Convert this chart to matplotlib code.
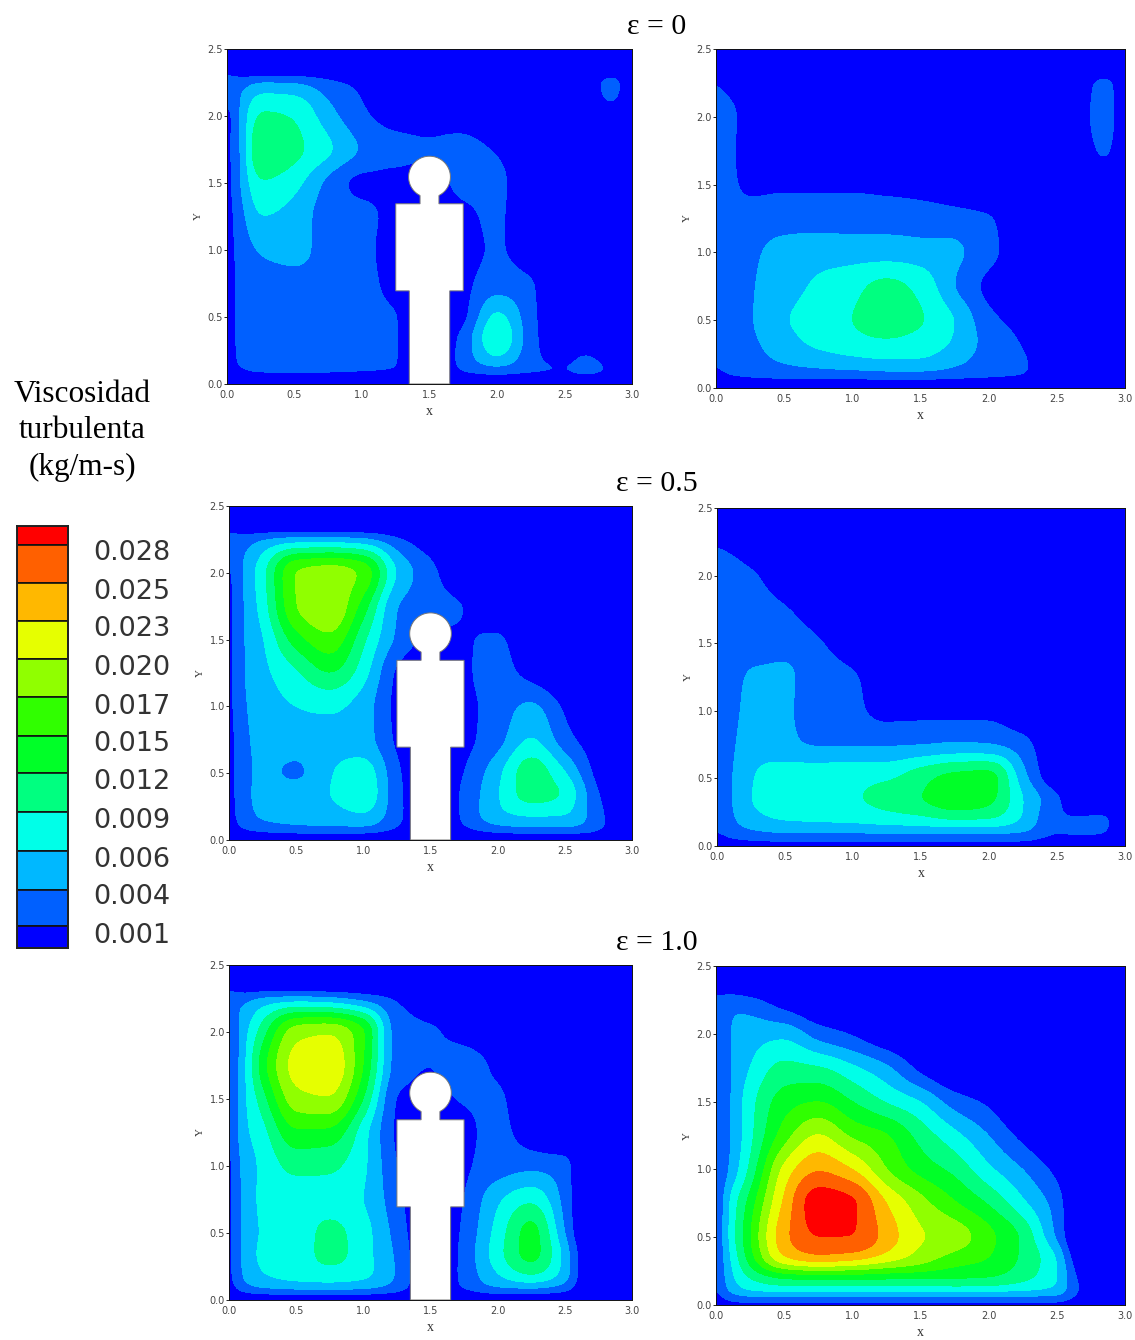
import numpy as np
import matplotlib
matplotlib.use('Agg')
import matplotlib.pyplot as plt
from matplotlib.patches import Polygon

W, H = 1135, 1340

# grid where the field was read, top row of each panel is the last nonzero edge
x_grid = [0, .1, .25, .5, .75, 1, 1.25, 1.5, 1.75, 2, 2.25, 2.5, 2.65, 2.85, 3]
y_grid = [2.35, 2.25, 2, 1.75, 1.5, 1.25, 1, .75, .5, .35, .2, .1, 0]

# field values as position on the colour scale (0 = lowest band, 11+ = red band)
eps0_person = [
    [0, 0, 0, 0, 0, 0, 0, 0, 0, 0, 0, 0, 0, 0, 0],
    [2.1, 1.6, 2.1, 2.0, 1.3, .7, 0, 0, 0, 0, 0, 0, 0, 1.7, 0],
    [.6, 2.1, 4.2, 3.9, 2.4, 1.2, .6, .6, .5, 0, 0, 0, 0, .5, 0],
    [.7, 2.0, 5.1, 4.3, 3.2, 1.9, 1.3, 1.1, 1.3, .9, 0, 0, 0, 0, 0],
    [.6, 2.0, 3.9, 3.3, 1.7, .7, .7, .5, 1.3, 1.3, 0, 0, 0, 0, 0],
    [.6, 1.6, 3.0, 2.6, 1.5, 1.3, .6, 0, .7, 1.2, 0, 0, 0, 0, 0],
    [.6, 1.4, 2.1, 2.4, 1.5, 1.3, .4, 0, .6, 1.1, .4, 0, 0, 0, 0],
    [.5, 1.3, 1.6, 1.6, 1.5, 1.4, .5, 0, .7, 1.5, 1.1, 0, 0, 0, 0],
    [.5, 1.3, 1.5, 1.5, 1.5, 1.4, 1.05, 0, .7, 3.3, 1.3, 0, 0, 0, 0],
    [.5, 1.3, 1.5, 1.5, 1.5, 1.4, 1.05, 0, 1.3, 3.9, 1.4, 0, 0, 0, 0],
    [.4, 1.3, 1.5, 1.5, 1.5, 1.4, 1.05, 0, 1.4, 3.0, 1.3, .6, 1.15, .4, 0],
    [.4, .9, 1.2, 1.2, 1.2, 1.1, 1, 0, 1.1, 1.5, 1.2, 1.1, 1.4, .9, 0],
    [0, 0, 0, 0, 0, 0, 0, 0, 0, 0, 0, 0, 0, 0, 0],
]
eps0_empty = [
    [0, 0, 0, 0, 0, 0, 0, 0, 0, 0, 0, 0, 0, 0, 0],
    [1.0, .6, 0, 0, 0, 0, 0, 0, 0, 0, 0, 0, 0, 1.6, 0],
    [1.3, 1.3, .3, 0, 0, 0, 0, 0, 0, 0, 0, 0, .2, 1.8, 0],
    [1.2, 1.2, .3, 0, 0, 0, 0, 0, 0, 0, 0, 0, 0, 1.3, 0],
    [1.2, 1.2, .7, .8, .8, .8, .7, .6, .3, 0, 0, 0, 0, 0, 0],
    [1.2, 1.4, 1.5, 1.6, 1.6, 1.6, 1.6, 1.5, 1.4, 1.1, .3, 0, 0, 0, 0],
    [1.2, 1.4, 1.8, 2.3, 2.5, 2.5, 2.5, 2.4, 2.2, 1.3, .4, 0, 0, 0, 0],
    [1.2, 1.4, 1.9, 2.5, 3.2, 3.7, 4.3, 3.7, 2.0, .7, 0, 0, 0, 0, 0],
    [1.2, 1.4, 1.9, 2.9, 3.5, 4.0, 4.6, 4.1, 3.0, 1.3, .6, 0, 0, 0, 0],
    [1.2, 1.4, 1.8, 2.6, 3.3, 3.7, 3.9, 3.6, 2.9, 1.6, .9, 0, 0, 0, 0],
    [1.1, 1.3, 1.6, 2.1, 2.4, 2.7, 2.9, 2.9, 2.3, 1.5, 1.1, .3, 0, 0, 0],
    [.8, 1.1, 1.3, 1.5, 1.6, 1.6, 1.7, 1.7, 1.5, 1.3, 1.1, .2, 0, 0, 0],
    [0, 0, 0, 0, 0, 0, 0, 0, 0, 0, 0, 0, 0, 0, 0],
]
eps05_person = [
    [0, 0, 0, 0, 0, 0, 0, 0, 0, 0, 0, 0, 0, 0, 0],
    [2.0, 1.5, 2.0, 2.4, 2.4, 2.2, 1.2, .3, 0, 0, 0, 0, 0, 0, 0],
    [.8, 2.0, 3.6, 7.1, 7.6, 6.8, 2.9, 1.3, .2, 0, 0, 0, 0, 0, 0],
    [.7, 1.9, 3.4, 7.0, 7.9, 5.5, 2.0, 1.3, 1.0, 0, 0, 0, 0, 0, 0],
    [.7, 1.9, 2.9, 5.5, 6.7, 4.2, 1.8, .8, .9, 1.2, 0, 0, 0, 0, 0],
    [.7, 1.9, 2.7, 3.8, 5.0, 3.4, .8, 0, .8, 1.4, .6, 0, 0, 0, 0],
    [.7, 1.8, 2.5, 3.0, 3.2, 2.5, .7, 0, .7, 1.4, 2.2, .8, .2, 0, 0],
    [.6, 1.7, 2.3, 2.5, 2.6, 2.4, .8, 0, .7, 1.6, 3.1, 1.4, .7, 0, 0],
    [.6, 1.6, 2.2, 1.8, 2.9, 3.6, 1.2, 0, 1.0, 2.7, 4.6, 3.1, 1.5, 0, 0],
    [.6, 1.6, 2.3, 2.4, 3.0, 3.8, 1.3, 0, 1.2, 2.9, 4.5, 3.9, 2.1, .3, 0],
    [.6, 1.5, 2.2, 2.4, 2.6, 3.0, 1.3, 0, 1.2, 2.8, 3.2, 3.1, 2.1, .6, 0],
    [.5, 1.2, 1.7, 2.0, 2.1, 2.1, 1.1, 0, 1.0, 1.9, 2.2, 2.2, 1.9, .7, 0],
    [0, 0, 0, 0, 0, 0, 0, 0, 0, 0, 0, 0, 0, 0, 0],
]
eps05_empty = [
    [0, 0, 0, 0, 0, 0, 0, 0, 0, 0, 0, 0, 0, 0, 0],
    [.8, .5, 0, 0, 0, 0, 0, 0, 0, 0, 0, 0, 0, 0, 0],
    [1.6, 1.6, 1.2, .3, 0, 0, 0, 0, 0, 0, 0, 0, 0, 0, 0],
    [1.6, 1.6, 1.5, 1.1, .3, 0, 0, 0, 0, 0, 0, 0, 0, 0, 0],
    [1.6, 1.7, 1.7, 1.7, 1.1, .4, 0, 0, 0, 0, 0, 0, 0, 0, 0],
    [1.6, 1.7, 2.1, 2.15, 1.4, 1.1, .4, 0, 0, 0, 0, 0, 0, 0, 0],
    [1.6, 1.7, 2.3, 2.15, 1.4, 1.2, .7, .7, .7, .7, .2, 0, 0, 0, 0],
    [1.6, 1.8, 2.5, 2.2, 1.9, 1.9, 1.9, 1.95, 2.1, 2.0, 1.4, 0, 0, 0, 0],
    [1.6, 1.9, 2.9, 3.7, 3.7, 3.8, 3.9, 4.7, 5.4, 5.5, 2.4, .2, 0, 0, 0],
    [1.5, 1.9, 3.0, 3.6, 3.7, 3.9, 4.4, 5.0, 5.7, 5.3, 3.0, 1.2, .2, 0, 0],
    [1.3, 1.8, 2.6, 3.1, 3.2, 3.3, 3.5, 3.7, 4.1, 4.0, 2.9, 1.05, 1.1, 1.2, .3],
    [1.0, 1.4, 1.8, 2.1, 2.1, 2.1, 2.2, 2.2, 2.2, 2.2, 2.0, 1.1, 1.2, 1.1, .2],
    [.3, .5, .5, .5, .5, .5, .5, .5, .5, .5, .5, .3, .3, .3, 0],
]
eps1_person = [
    [0, 0, 0, 0, 0, 0, 0, 0, 0, 0, 0, 0, 0, 0, 0],
    [2.1, 1.7, 2.2, 2.4, 2.2, 1.6, .9, 0, 0, 0, 0, 0, 0, 0, 0],
    [1.0, 2.4, 4.5, 7.6, 7.9, 6.2, 1.5, 1.2, .5, 0, 0, 0, 0, 0, 0],
    [.9, 2.5, 5.5, 8.4, 8.8, 6.0, 1.5, 1.0, 1.6, .7, 0, 0, 0, 0, 0],
    [.8, 2.6, 4.5, 7.6, 7.9, 5.0, .9, .6, 1.1, 1.2, 0, 0, 0, 0, 0],
    [.8, 2.6, 3.6, 5.8, 5.7, 3.4, .8, 0, .7, 1.3, .4, 0, 0, 0, 0],
    [.7, 2.3, 3.2, 4.3, 4.2, 3.2, 1.0, 0, .8, 1.5, 1.7, 1.4, 0, 0, 0],
    [.7, 2.2, 3.2, 3.5, 3.6, 3.0, 1.3, 0, 1.0, 2.8, 3.8, 1.6, 0, 0, 0],
    [.7, 2.2, 3.1, 3.4, 4.3, 3.4, 1.6, 0, 1.2, 3.4, 5.4, 2.0, 0, 0, 0],
    [.7, 2.2, 3.2, 3.4, 4.4, 3.4, 1.8, 0, 1.3, 3.6, 5.4, 2.6, .3, 0, 0],
    [.7, 2.1, 3.0, 3.4, 3.6, 3.3, 1.9, 0, 1.3, 3.0, 4.2, 2.6, .3, 0, 0],
    [.6, 1.7, 2.3, 2.6, 2.7, 2.5, 1.7, 0, 1.2, 2.2, 2.4, 1.7, .2, 0, 0],
    [0, 0, 0, 0, 0, 0, 0, 0, 0, 0, 0, 0, 0, 0, 0],
]
eps1_empty = [
    [0, 0, 0, 0, 0, 0, 0, 0, 0, 0, 0, 0, 0, 0, 0],
    [1.4, 1.7, 1.3, .4, 0, 0, 0, 0, 0, 0, 0, 0, 0, 0, 0],
    [.9, 2.0, 2.5, 2.7, 1.5, .9, .2, 0, 0, 0, 0, 0, 0, 0, 0],
    [1.0, 1.9, 3.0, 4.3, 4.1, 3.2, 2.2, .7, 0, 0, 0, 0, 0, 0, 0],
    [1.0, 1.9, 3.6, 5.5, 6.0, 5.0, 3.9, 3.0, 1.5, .8, 0, 0, 0, 0, 0],
    [1.0, 1.9, 3.7, 6.5, 8.1, 6.8, 6.1, 4.6, 3.3, 2.0, .7, 0, 0, 0, 0],
    [1.0, 2.1, 4.2, 8.3, 9.9, 9.0, 7.0, 5.6, 4.7, 3.2, 2.0, .7, 0, 0, 0],
    [1.0, 3.1, 5.4, 9.2, 11.6, 11.2, 9.0, 7.4, 6.1, 4.9, 3.2, 1.5, 0, 0, 0],
    [1.1, 3.2, 5.9, 9.7, 11.0, 11.0, 9.6, 8.1, 7.6, 6.3, 4.8, 1.8, 0, 0, 0],
    [1.1, 2.9, 5.5, 9.0, 9.8, 9.5, 8.6, 7.6, 6.6, 6.0, 4.8, 3.0, .3, 0, 0],
    [1.0, 2.6, 4.0, 5.0, 5.2, 5.2, 5.1, 5.1, 5.1, 5.0, 4.3, 3.1, .9, 0, 0],
    [.9, 2.2, 3.0, 3.2, 3.2, 3.2, 3.2, 3.2, 3.2, 3.1, 3.0, 2.7, 1.1, 0, 0],
    [.3, .5, .5, .5, .5, .5, .5, .5, .5, .5, .5, .5, .3, 0, 0],
]

band_colors = ['#0000ff', '#0060ff', '#00b8ff', '#00ffe8', '#00ff80', '#00ff28',
               '#30ff00', '#90ff00', '#e6ff00', '#ffb800', '#ff6000', '#ff0000']
legend_labels = ['0.028', '0.025', '0.023', '0.020', '0.017', '0.015',
                 '0.012', '0.009', '0.006', '0.004', '0.001']
legend_label_y = [551, 590, 627, 666, 705, 742, 780, 819, 858, 895, 934]
legend_edges = [526, 545, 583, 621, 659, 697, 736, 773, 812, 851, 890, 926, 948]

ticks_x = [0, .5, 1, 1.5, 2, 2.5, 3]
ticks_y = [0, .5, 1, 1.5, 2, 2.5]

# left, top, right, bottom in pixels
panels = [
    (eps0_person, True, (227, 49, 632, 384)),
    (eps0_empty, False, (716, 49, 1125, 388)),
    (eps05_person, True, (229, 506, 632, 840)),
    (eps05_empty, False, (717, 508, 1125, 846)),
    (eps1_person, True, (229, 965, 632, 1300)),
    (eps1_empty, False, (716, 966, 1125, 1305)),
]
titles = [('ε = 0', 27), ('ε = 0.5', 484), ('ε = 1.0', 943)]

serif = 'Liberation Serif'
tick_col = '#444444'


def add_axes_px(fig, left, top, right, bottom):
    return fig.add_axes([left / W, 1 - bottom / H, (right - left) / W, (bottom - top) / H])


def pchip(xk, yk, xq):
    """Monotone cubic through the knots, flat beyond both ends."""
    xk = np.asarray(xk, dtype=float)
    yk = np.asarray(yk, dtype=float)
    h = np.diff(xk)
    s = np.diff(yk) / h
    d = np.zeros_like(yk)
    for i in range(1, len(xk) - 1):
        if s[i - 1] * s[i] > 0:
            w1 = 2 * h[i] + h[i - 1]
            w2 = h[i] + 2 * h[i - 1]
            d[i] = (w1 + w2) / (w1 / s[i - 1] + w2 / s[i])
    xq = np.clip(xq, xk[0], xk[-1])
    j = np.clip(np.searchsorted(xk, xq) - 1, 0, len(h) - 1)
    t = (xq - xk[j]) / h[j]
    return (yk[j] * (1 + 2 * t) * (1 - t) ** 2 + d[j] * h[j] * t * (1 - t) ** 2
            + yk[j + 1] * t ** 2 * (3 - 2 * t) + d[j + 1] * h[j] * t ** 2 * (t - 1))


def fine_field(values):
    """Resample the read values to a fine grid and soften the grid kinks."""
    xs = np.linspace(0, 3, 301)
    ys = np.linspace(0, 2.5, 251)
    z = np.array(values, dtype=float)[::-1]
    yg = np.array(y_grid)[::-1]
    rows = np.array([pchip(x_grid, r, xs) for r in z])
    fine = np.array([pchip(yg, rows[:, i], ys) for i in range(len(xs))]).T
    sigma = 3.5
    k = np.exp(-0.5 * (np.arange(-11, 12) / sigma) ** 2)
    k /= k.sum()
    pad = np.pad(fine, 11, mode='edge')
    pad = np.apply_along_axis(lambda a: np.convolve(a, k, mode='same'), 0, pad)
    pad = np.apply_along_axis(lambda a: np.convolve(a, k, mode='same'), 1, pad)
    return xs, ys, pad[11:-11, 11:-11]


def person_outline():
    t = np.radians(np.linspace(-63, 243, 60))
    head = np.column_stack([1.5 + .155 * np.cos(t), 1.545 + .155 * np.sin(t)])
    body = [(1.43, 1.40), (1.43, 1.345), (1.25, 1.345), (1.25, .695),
            (1.35, .695), (1.35, 0), (1.65, 0), (1.65, .695),
            (1.75, .695), (1.75, 1.345), (1.57, 1.345), (1.57, 1.40)]
    return np.vstack([head, body])


fig = plt.figure(figsize=(W / 100, H / 100), dpi=100)

for values, has_person, box in panels:
    ax = add_axes_px(fig, *box)
    xs, ys, field = fine_field(values)
    ax.set_facecolor(band_colors[0])
    ax.contourf(xs, ys, np.clip(field, .01, 11.99), levels=np.arange(13), colors=band_colors)
    if has_person:
        ax.add_patch(Polygon(person_outline(), closed=True, facecolor='white',
                             edgecolor='#777777', linewidth=.7, zorder=3))
    ax.set_xlim(0, 3)
    ax.set_ylim(0, 2.5)
    ax.set_xticks(ticks_x)
    ax.set_yticks(ticks_y)
    ax.set_xticklabels(['%.1f' % v for v in ticks_x])
    ax.set_yticklabels(['%.1f' % v for v in ticks_y])
    ax.tick_params(axis='x', length=0, pad=4, labelsize=7, labelcolor=tick_col)
    ax.tick_params(axis='y', length=2, width=.6, pad=1, labelsize=7, labelcolor=tick_col)
    for s in ax.spines.values():
        s.set_linewidth(.7)
        s.set_color('#111111')
    ax.set_xlabel('x', family=serif, fontsize=10, color='#333333', labelpad=4)
    ax.set_ylabel('Y', family=serif, fontsize=8, color='#333333', labelpad=3)

for text, y in titles:
    fig.text(657 / W, 1 - y / H, text, family=serif, fontsize=21.5, ha='center', va='center')

fig.text(82 / W, 1 - 431 / H, 'Viscosidad\nturbulenta\n(kg/m-s)', family=serif, fontsize=22.5,
         ha='center', va='center', linespacing=1.33, multialignment='center')

# colour legend, its axes runs in pixels so the uneven end cells stay as drawn
lax = add_axes_px(fig, 17, 526, 68, 948)
for i in range(12):
    lax.fill_between([0, 1], legend_edges[i], legend_edges[i + 1],
                     facecolor=band_colors[11 - i], edgecolor='#111111', linewidth=1.2)
lax.set_xlim(0, 1)
lax.set_ylim(948, 526)
lax.set_xticks([])
lax.set_yticks([])
for s in lax.spines.values():
    s.set_linewidth(1.4)
    s.set_color('#222222')

for label, y in zip(legend_labels, legend_label_y):
    fig.text(93 / W, 1 - (y + 2) / H, label, fontsize=19.5, color='#333333', ha='left', va='center')

fig.savefig('out.png', dpi=100)
